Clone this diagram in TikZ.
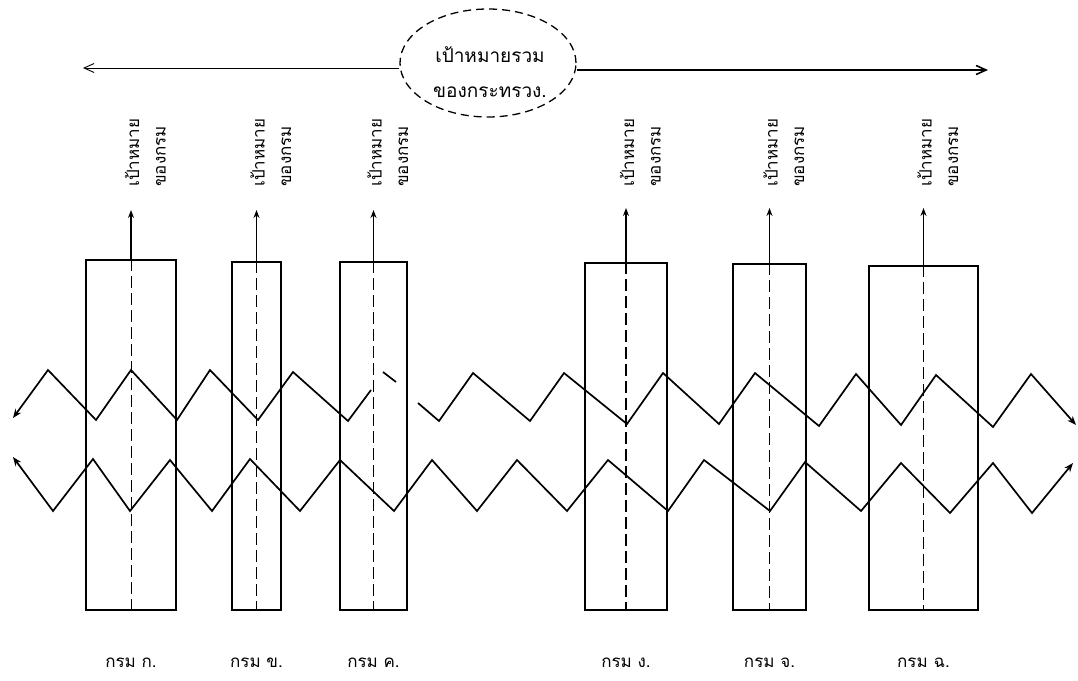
\documentclass[tikz,border=0pt]{standalone}
\usepackage{fontspec}
\newfontfamily\thai[Script=Thai]{Loma}
\usetikzlibrary{arrows.meta,shapes.geometric}
\begin{document}
\begin{tikzpicture}[x=1pt,y=-1pt,
  deptbox/.style={draw, line width=1.3pt, inner sep=0pt},
  centre/.style={line width=#1, dash pattern=on 12pt off 5pt},
  centre/.default=0.9pt,
  uparrow/.style={line width=1.3pt, -{Stealth[length=8pt,width=6pt]}},
  zig/.style={line width=1.7pt, line join=miter, {Stealth[length=9pt,width=7pt]}-{Stealth[length=9pt,width=7pt]}},
  zigplain/.style={line width=1.7pt, line join=miter},
  topline/.style={line width=#1},
  goal/.style={draw, ellipse, dashed, dash pattern=on 8pt off 5pt, line width=1.3pt, minimum width=176pt, minimum height=108pt, inner sep=0pt},
  goaltext/.style={font=\thai\fontsize{19}{19}\selectfont, inner sep=0pt},
  vlabel/.style={font=\thai\fontsize{17}{17}\selectfont, rotate=90, anchor=west, inner sep=0pt},
  blabel/.style={font=\thai\fontsize{17}{17}\selectfont, inner sep=0pt}
]
\useasboundingbox (0,0) rectangle (1078,680);
\fill[white] (0,0) rectangle (1078,680);

% ministry goal
\node[goal] (ell) at (488,63) {};
\node[goaltext] (g1) at (490,55) {เป้าหมายรวม};
\node[goaltext] (g2) at (490,92) {ของกระทรวง.};
\coordinate (tl) at (83,68);
\coordinate (tr) at (988,70);
\draw[topline=0.9pt, {Straight Barb[length=10pt,width=9pt]}-] (tl) -- (ell.west |- tl);
\draw[topline=1.6pt, -{Straight Barb[length=10pt,width=9pt]}] (ell.east |- tr) -- (tr);

% departments
\foreach \i/\l/\r/\t/\tip/\dw/\lbl in {
  1/86/176/260/210/0.9pt/ก,
  2/232/281/262/210/0.9pt/ข,
  3/340/407/262/210/1.6pt/ค,
  4/585/667/263/208/1.6pt/ง,
  5/733/806/264/208/0.9pt/จ,
  6/869/978/266/208/1.6pt/ฉ}{
  \pgfmathsetmacro\cx{(\l+\r)/2}
  \pgfmathsetmacro\cy{(\t+610)/2}
  \node[deptbox, minimum width={(\r-\l)*1pt}, minimum height={(610-\t)*1pt}] (r\i) at (\cx,\cy) {};
  \draw[centre=\dw] (r\i.north) -- (r\i.south);
  \coordinate (tip\i) at (\cx,\tip);
  \draw[uparrow] (r\i.north) -- (tip\i);
  \node[vlabel] (la\i) at (\cx+1,187) {เป้าหมาย};
  \node[vlabel] (lb\i) at (\cx+30,187) {ของกรม};
  \node[blabel] (d\i) at (\cx,663) {กรม \lbl.};
}

% upper zigzag (broken near the middle as in the original)
\draw[zigplain, {Stealth[length=9pt,width=7pt]}-] (13,418) -- (48,370) -- (96,420) -- (131,370) -- (177,420) -- (210,370) -- (258,420) -- (293,372) -- (348,421) -- (371,390);
\draw[zigplain] (383,372) -- (396,382);
\draw[zigplain, -{Stealth[length=9pt,width=7pt]}] (418,403) -- (439,421) -- (473,373) -- (530,421) -- (564,373) -- (627,424) -- (663,373) -- (719,424) -- (755,373) -- (819,426) -- (856,374) -- (901,425) -- (936,375) -- (993,427) -- (1031,374) -- (1076,425);

% lower zigzag
\draw[zig] (13,457) -- (53,511) -- (93,459) -- (130,511) -- (170,460) -- (212,511) -- (250,459) -- (300,511) -- (340,460) -- (394,511) -- (432,460) -- (477,511) -- (517,460) -- (567,511) -- (608,460) -- (668,511) -- (704,460) -- (770,511) -- (805,462) -- (861,511) -- (901,463) -- (950,513) -- (993,463) -- (1032,513) -- (1073,463);
\end{tikzpicture}
\end{document}
